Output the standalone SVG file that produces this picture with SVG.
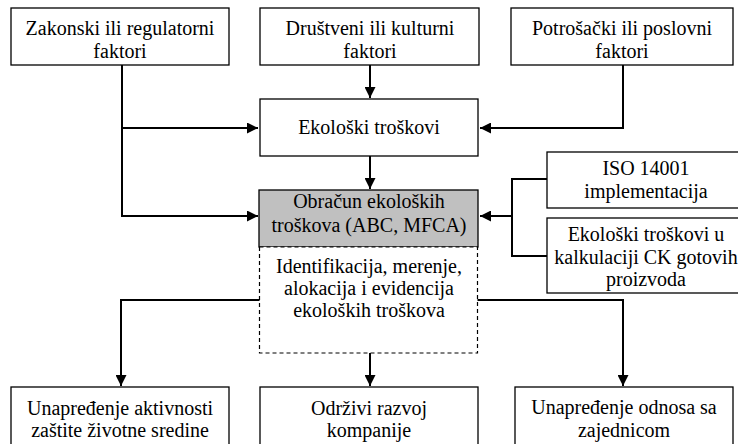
<svg xmlns="http://www.w3.org/2000/svg" width="738" height="444" viewBox="0 0 738 444">
<defs>
<style>
.box{fill:#fff;stroke:#000;stroke-width:1.3}
.gray{fill:#c0c0c0;stroke:#000;stroke-width:1.3}
.dash{fill:#fff;stroke:#000;stroke-width:1.2;stroke-dasharray:4,3}
.t{font-family:'Liberation Serif','Times New Roman',serif;font-size:20px;fill:#000;text-anchor:middle}
.c{fill:none;stroke:#000;stroke-width:2}
</style>
<marker id="ah" viewBox="0 0 10 10" refX="10" refY="5" markerWidth="11" markerHeight="11" markerUnits="userSpaceOnUse" orient="auto">
<path d="M0,0 L10,5 L0,10 z" fill="#000"/>
</marker>
</defs>
<rect width="738" height="444" fill="#fff"/>
<g id="connectors">
<path class="c" d="M122,65 V216 H258" marker-end="url(#ah)"/>
<path class="c" d="M122,128 H258" marker-end="url(#ah)"/>
<path class="c" d="M370,65 V98" marker-end="url(#ah)"/>
<path class="c" d="M623,65 V128 H480" marker-end="url(#ah)"/>
<path class="c" d="M370,156 V189" marker-end="url(#ah)"/>
<path class="c" d="M547,179 H512 V256 H547"/>
<path class="c" d="M512,216 H480" marker-end="url(#ah)"/>
<path class="c" d="M260,300 H121 V386" marker-end="url(#ah)"/>
<path class="c" d="M370,353 V386" marker-end="url(#ah)"/>
<path class="c" d="M477,300 H623 V386" marker-end="url(#ah)"/>
</g>
<g id="zakonski">
<rect class="box" x="11" y="8" width="218" height="57"/>
<text class="t" x="120" y="35">Zakonski ili regulatorni</text>
<text class="t" x="120" y="58">faktori</text>
</g>
<g id="drustveni">
<rect class="box" x="260" y="8" width="219" height="57"/>
<text class="t" x="370" y="35">Društveni ili kulturni</text>
<text class="t" x="370" y="58">faktori</text>
</g>
<g id="potrosacki">
<rect class="box" x="511" y="8" width="222" height="57"/>
<text class="t" x="622" y="35">Potrošački ili poslovni</text>
<text class="t" x="622" y="58">faktori</text>
</g>
<g id="ekoloski">
<rect class="box" x="260" y="99" width="218" height="57"/>
<text class="t" x="369" y="134">Ekološki troškovi</text>
</g>
<g id="obracun">
<rect class="gray" x="259" y="190" width="219" height="57"/>
<text class="t" x="369" y="208">Obračun ekoloških</text>
<text class="t" x="369" y="232">troškova (ABC, MFCA)</text>
</g>
<g id="identifikacija">
<rect class="dash" x="259.5" y="247" width="218" height="106"/>
<text class="t" x="369" y="273">Identifikacija, merenje,</text>
<text class="t" x="369" y="295">alokacija i evidencija</text>
<text class="t" x="369" y="317">ekoloških troškova</text>
</g>
<g id="iso">
<rect class="box" x="547" y="152" width="200" height="56"/>
<text class="t" x="646" y="175">ISO 14001</text>
<text class="t" x="646" y="198">implementacija</text>
</g>
<g id="kalkulacija">
<rect class="box" x="547" y="218" width="200" height="75"/>
<text class="t" x="646" y="241">Ekološki troškovi u</text>
<text class="t" x="646" y="264">kalkulaciji CK gotovih</text>
<text class="t" x="646" y="286">proizvoda</text>
</g>
<g id="zastita">
<rect class="box" x="11" y="387" width="218" height="62"/>
<text class="t" x="120" y="415">Unapređenje aktivnosti</text>
<text class="t" x="120" y="437">zaštite životne sredine</text>
</g>
<g id="razvoj">
<rect class="box" x="260" y="387" width="218" height="62"/>
<text class="t" x="369" y="415">Održivi razvoj</text>
<text class="t" x="369" y="437">kompanije</text>
</g>
<g id="zajednica">
<rect class="box" x="515" y="387" width="218" height="62"/>
<text class="t" x="624" y="414">Unapređenje odnosa sa</text>
<text class="t" x="624" y="437">zajednicom</text>
</g>
</svg>
